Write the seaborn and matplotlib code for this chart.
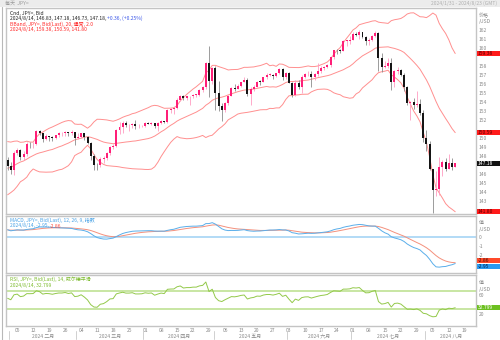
import numpy as np
import pandas as pd
import matplotlib
matplotlib.use("Agg")
import matplotlib.pyplot as plt
from matplotlib.patches import Rectangle
import matplotlib.transforms as mtransforms
import seaborn as sns

# ---- USD/JPY daily bid, closes before the visible window (indicator warm-up) ----
warmup_closes = [
    150.95, 150.43, 149.38, 149.98, 150.37, 150.96, 151.37, 151.52, 151.71, 150.36,
    151.36, 150.70, 149.60, 148.35, 148.37, 149.55, 149.55, 149.44, 148.70, 147.47,
    147.24, 148.19,
    146.80, 147.21, 147.18, 147.30, 144.10, 144.95, 145.91, 145.45, 142.90, 141.90,
    142.17, 142.83, 143.85, 143.53, 142.13, 142.40, 142.30, 142.43, 141.80, 141.40,
    141.00,
    141.00, 142.00, 143.30, 144.60, 144.60, 144.25, 144.40, 145.75, 145.30, 144.90,
    145.75, 147.20, 148.15, 148.15, 148.10, 148.10, 148.40, 147.50, 147.65, 148.15,
    147.50, 147.60,
]

# ---- visible candles, 2024-01-31 .. 2024-08-14 ----
opens = [
    147.55, 146.90, 146.45,
    148.35, 148.70, 147.93, 148.18, 149.30,
    149.28, 149.35, 150.78, 150.55, 149.90,
    150.20, 150.15, 150.00, 150.30, 150.50,
    150.50, 150.68, 150.50, 150.70, 149.98,
    150.10, 150.50, 150.05, 149.40, 148.00,
    147.05, 146.95, 147.65, 147.80, 148.30,
    149.05, 149.15, 150.85, 151.25, 151.60,
    151.40, 151.40, 151.55, 151.30, 151.30,
    151.35, 151.65, 151.58, 151.65, 151.30,
    151.60, 151.85, 151.78, 153.15, 153.25,
    153.28, 154.25, 154.70, 154.40, 154.60,
    154.60, 154.80, 154.80, 155.35, 155.60,
    158.30, 156.35, 157.80, 155.00, 153.50,
    153.05, 153.90, 154.70, 155.55, 155.45,
    155.75, 156.20, 156.40, 154.90, 155.40,
    155.65, 156.25, 156.20, 156.75, 157.00,
    157.00, 156.85, 157.15, 157.60, 156.80,
    157.25, 156.10, 154.80, 156.10, 155.60,
    156.75, 157.05, 157.10, 156.70, 157.05,
    157.40, 157.70, 157.85, 158.10, 158.95,
    159.75, 159.70, 159.65, 160.75, 160.75,
    160.88, 161.50, 161.45, 161.70, 161.20,
    160.75, 160.80, 161.30, 161.65, 158.85,
    157.85, 158.00, 158.35, 156.18, 157.37,
    157.49, 157.03, 155.63, 153.90, 153.96,
    153.60, 153.80, 152.75, 149.98, 149.37,
    146.54, 144.18, 144.29, 146.78, 147.29,
    146.60, 147.22, 146.83,
]
highs = [
    147.85, 147.35, 148.55,
    148.90, 148.80, 148.50, 149.55, 149.50,
    149.55, 150.88, 150.90, 150.60, 150.45,
    150.25, 150.20, 150.35, 150.65, 150.65,
    150.75, 150.70, 150.85, 150.70, 150.60,
    150.60, 150.60, 150.20, 149.50, 148.25,
    147.25, 147.90, 147.95, 148.40, 149.15,
    149.35, 150.95, 151.80, 151.85, 151.85,
    151.50, 151.65, 151.97, 151.50, 151.45,
    151.75, 151.80, 151.80, 151.70, 151.80,
    152.00, 151.90, 153.25, 153.30, 153.40,
    154.45, 154.75, 154.80, 154.70, 154.65,
    154.85, 154.85, 155.40, 155.75, 158.45,
    160.20, 157.85, 157.98, 156.30, 153.90,
    154.00, 154.80, 155.70, 155.95, 155.95,
    156.25, 156.75, 156.60, 155.60, 155.90,
    156.35, 156.40, 156.80, 157.20, 157.20,
    157.10, 157.25, 157.70, 157.70, 157.35,
    157.30, 156.20, 156.45, 156.40, 157.00,
    157.25, 157.40, 157.40, 157.20, 158.25,
    157.95, 157.95, 158.20, 159.00, 159.80,
    159.90, 159.90, 160.85, 160.85, 161.25,
    161.75, 161.75, 161.95, 161.75, 161.30,
    161.05, 161.40, 161.80, 161.75, 159.45,
    158.50, 158.85, 158.85, 157.50, 157.85,
    157.65, 157.20, 155.80, 154.10, 154.40,
    155.20, 154.30, 153.10, 150.90, 149.70,
    146.60, 146.35, 147.90, 147.55, 147.80,
    148.20, 147.80, 147.18,
]
lows = [
    146.45, 146.00, 145.90,
    148.10, 147.60, 147.60, 148.00, 148.90,
    148.90, 149.20, 150.35, 149.55, 149.80,
    149.70, 149.70, 149.90, 150.10, 150.25,
    150.25, 150.20, 150.30, 149.20, 149.90,
    150.00, 149.75, 149.30, 147.60, 146.50,
    146.50, 146.80, 147.25, 147.50, 148.10,
    148.75, 149.00, 150.45, 150.60, 151.20,
    150.80, 151.15, 151.00, 151.15, 151.20,
    151.25, 151.55, 151.45, 151.05, 150.80,
    151.55, 151.65, 151.70, 152.75, 152.60,
    153.20, 154.10, 154.15, 154.15, 153.60,
    154.45, 154.55, 154.70, 155.05, 155.40,
    154.55, 156.00, 153.05, 152.95, 151.86,
    152.85, 153.70, 154.60, 155.20, 155.40,
    155.70, 156.15, 154.70, 153.60, 155.20,
    155.60, 155.90, 156.15, 156.55, 156.85,
    156.55, 156.75, 157.10, 156.40, 156.55,
    156.05, 154.55, 154.70, 155.40, 154.95,
    156.65, 156.85, 155.70, 156.45, 156.90,
    157.20, 157.55, 157.75, 157.90, 158.70,
    159.30, 159.45, 159.60, 160.20, 160.40,
    160.80, 161.25, 161.00, 161.10, 160.25,
    160.30, 160.70, 161.15, 157.40, 157.35,
    157.75, 157.80, 155.35, 155.60, 157.10,
    156.85, 155.20, 153.60, 151.94, 153.20,
    153.45, 152.55, 149.60, 148.50, 146.40,
    141.68, 143.60, 143.70, 145.80, 146.30,
    146.55, 146.50, 146.73,
]
closes = [
    146.90, 146.45, 148.38,
    148.70, 147.93, 148.18, 149.30, 149.28,
    149.35, 150.78, 150.55, 149.90, 150.20,
    150.15, 150.00, 150.30, 150.50, 150.50,
    150.68, 150.50, 150.70, 149.98, 150.10,
    150.50, 150.05, 149.40, 148.00, 147.05,
    146.95, 147.65, 147.80, 148.30, 149.05,
    149.15, 150.85, 151.25, 151.60, 151.40,
    151.40, 151.55, 151.30, 151.30, 151.35,
    151.65, 151.58, 151.65, 151.30, 151.60,
    151.85, 151.78, 153.15, 153.25, 153.28,
    154.25, 154.70, 154.40, 154.60, 154.60,
    154.80, 154.80, 155.35, 155.60, 158.30,
    156.35, 157.80, 155.00, 153.50, 153.05,
    153.90, 154.70, 155.55, 155.45, 155.75,
    156.20, 156.40, 154.90, 155.40, 155.65,
    156.25, 156.20, 156.75, 157.00, 157.00,
    156.85, 157.15, 157.60, 156.80, 157.25,
    156.10, 154.80, 156.10, 155.60, 156.75,
    157.05, 157.10, 156.70, 157.05, 157.40,
    157.70, 157.85, 158.10, 158.95, 159.75,
    159.70, 159.65, 160.75, 160.75, 160.88,
    161.50, 161.45, 161.70, 161.20, 160.75,
    160.80, 161.30, 161.65, 158.85, 157.85,
    158.00, 158.35, 156.18, 157.37, 157.49,
    157.03, 155.63, 153.90, 153.96, 153.60,
    153.80, 152.75, 149.98, 149.37, 146.54,
    144.18, 144.29, 146.78, 147.29, 146.60,
    147.22, 146.82, 147.18,
]

# Values shown in the header lines and the right-hand value boxes
last_date = "2024/8/14"
last_change = "+0.36, (+0.25%)"
bb_last = (159.38, 150.59, 141.80)
macd_last = (-2.95, -2.86)
rsi_last = 32.799
price_ticks = [143, 144, 145, 146, 148, 149, 150, 152, 153, 154, 155, 156, 157,
               158, 160, 161, 162]
macd_ticks = [-2, -1, 0]
rsi_ticks = [20, 60]
month_names = ["一月", "二月", "三月", "四月", "五月", "六月", "七月", "八月",
               "九月", "十月", "十一月", "十二月"]

# ---- indicators ----
warm_dates = pd.bdate_range("2023-11-01", "2024-01-30")
dates = pd.bdate_range("2024-01-31", "2024-08-14")
axis_dates = pd.bdate_range("2024-01-31", "2024-08-23")

series = pd.Series(warmup_closes + closes, index=warm_dates.append(dates))
mid = series.rolling(20).mean()
sd = series.rolling(20).std(ddof=0)
ema12 = series.ewm(span=12, adjust=False).mean()
ema26 = series.ewm(span=26, adjust=False).mean()
macd = ema12 - ema26
signal = macd.ewm(span=9, adjust=False).mean()
delta = series.diff()
gain = delta.clip(lower=0).ewm(alpha=1 / 14, adjust=False).mean()
loss = (-delta.clip(upper=0)).ewm(alpha=1 / 14, adjust=False).mean()
rsi = 100 - 100 / (1 + gain / loss)

n = len(closes)
df = pd.DataFrame({
    "pos": np.arange(n),
    "open": opens, "high": highs, "low": lows, "close": closes,
    "upper": (mid + 2 * sd)[dates].values,
    "mid": mid[dates].values,
    "lower": (mid - 2 * sd)[dates].values,
    "macd": macd[dates].values,
    "signal": signal[dates].values,
    "rsi": rsi[dates].values,
})

# ---- style ----
sns.set_theme(style="white")
plt.rcParams["font.family"] = ["Noto Sans CJK SC", "DejaVu Sans"]
plt.rcParams["axes.unicode_minus"] = False

W, H = 500, 340
fig = plt.figure(figsize=(W / 100, H / 100), dpi=100)
fig.patch.set_facecolor("white")


def box(x0, y0, x1, y1):
    return [x0 / W, 1 - y1 / H, (x1 - x0) / W, (y1 - y0) / H]


UP = "#ff1f78"
UP_WICK = "#ff9cc2"
DOWN = "#151515"
DOWN_WICK = "#8c8c8c"
BAND = "#ff8f8f"
MACD_C = "#5aaeea"
SIG_C = "#f4907c"
ZERO_C = "#a6d4f5"
RSI_C = "#93c94a"
RSI_LVL = "#bfe293"
GRID_TXT = "#8a8a8a"
SPINE = "#c4c4c4"
FS = 3.6

ax = fig.add_axes(box(6, 8, 476, 214))
ax_m = fig.add_axes(box(6, 216, 476, 273))
ax_r = fig.add_axes(box(6, 275, 476, 326))

XL = (-0.5, 146.5)
for a in (ax, ax_m, ax_r):
    a.set_xlim(*XL)
    a.set_facecolor("white")
    for s in a.spines.values():
        s.set_color(SPINE)
        s.set_linewidth(1.0)
    a.yaxis.tick_right()
    a.tick_params(axis="y", length=0, labelsize=FS, labelcolor=GRID_TXT, pad=2)
    a.set_xticks([])

# ---- candles ----
for _, r in df.iterrows():
    up = r["close"] >= r["open"]
    ax.vlines(r["pos"], r["low"], r["high"], color=UP_WICK if up else DOWN_WICK,
              lw=0.6, zorder=2)
    lo = min(r["open"], r["close"])
    hgt = max(abs(r["close"] - r["open"]), 0.07)
    ax.bar(r["pos"], hgt, bottom=lo, width=0.62, color=UP if up else DOWN,
           linewidth=0, zorder=3)

for col in ("upper", "mid", "lower"):
    sns.lineplot(data=df, x="pos", y=col, ax=ax, color=BAND, lw=0.7, zorder=1)
ax.set_ylim(141.57, 164.40)
ax.set_yticks(price_ticks)
ax.set_xlabel("")
ax.set_ylabel("")

# ---- MACD ----
ax_m.axhline(0, color=ZERO_C, lw=1.2, zorder=1)
sns.lineplot(data=df, x="pos", y="signal", ax=ax_m, color=SIG_C, lw=0.7, zorder=2)
sns.lineplot(data=df, x="pos", y="macd", ax=ax_m, color=MACD_C, lw=0.7, zorder=3)
ax_m.set_ylim(-4.0, 2.33)
ax_m.set_yticks(macd_ticks)
ax_m.set_xlabel("")
ax_m.set_ylabel("")

# ---- RSI ----
ax_r.axhline(70, color=RSI_LVL, lw=1.2, zorder=1)
ax_r.axhline(30, color=RSI_LVL, lw=1.2, zorder=1)
sns.lineplot(data=df, x="pos", y="rsi", ax=ax_r, color=RSI_C, lw=0.7, zorder=2)
ax_r.set_ylim(-7, 104)
ax_r.set_yticks(rsi_ticks)
ax_r.set_xlabel("")
ax_r.set_ylabel("")

# ---- date axis ----
mondays = [i for i, d in enumerate(axis_dates) if d.weekday() == 0]
ax_r.set_xticks(mondays)
ax_r.set_xticklabels([f"{axis_dates[i].day:02d}" for i in mondays])
ax_r.tick_params(axis="x", length=0, labelsize=FS, labelcolor=GRID_TXT, pad=1.5)
ax_r.set_xlim(*XL)

trans_x = mtransforms.blended_transform_factory(ax_r.transData, fig.transFigure)
months = sorted(set(d.month for d in axis_dates))
for m in months:
    idx = [i for i, d in enumerate(axis_dates) if d.month == m]
    if len(idx) < 3:
        continue
    start = idx[0]
    end = min(idx[-1], XL[1])
    ax_r.plot([start - 0.5, start - 0.5], [1 - 331 / H, 1 - 339 / H],
              transform=trans_x, color="#d0d0d0", lw=0.7, clip_on=False)
    ax_r.text((start + end) / 2, 1 - 336 / H, f"2024 {month_names[m - 1]}",
              transform=trans_x, ha="center", va="center", fontsize=FS,
              color=GRID_TXT)

# ---- frame and top bar ----
fig.add_artist(Rectangle((0, 1 - 7 / H), 1, 7 / H, transform=fig.transFigure,
                         facecolor="#ececec", edgecolor="none", zorder=0))
fig.add_artist(plt.Line2D([2 / W, 2 / W], [0, 1 - 7 / H], transform=fig.transFigure,
                          color="#b8b8b8", lw=0.8))
fig.text(5 / W, 1 - 3.5 / H, "每天  JPY=", fontsize=FS, color="#9a9a9a",
         va="center", ha="left")
fig.text(497 / W, 1 - 3.5 / H, "2024/1/31 - 2024/8/23 (GMT)", fontsize=FS,
         color="#b0b0b0", va="center", ha="right")

renderer = fig.canvas.get_renderer()


def header(y_px, parts):
    """Draw a header line made of differently coloured pieces, pixel y from top."""
    x = 10
    for txt, col in parts:
        t = fig.text(x / W, 1 - y_px / H, txt, fontsize=FS, color=col,
                     va="center", ha="left", zorder=10)
        bb = t.get_window_extent(renderer=renderer)
        x += bb.width + 0.8


header(13, [("Cnd, JPY=, Bid", "#222222")])
header(18.5, [(f"{last_date}, {opens[-1]:.2f}, {highs[-1]:.2f}, "
               f"{lows[-1]:.2f}, {closes[-1]:.2f},", "#222222"),
              (last_change, "#3a56e8")])
header(24, [("BBand, JPY=, Bid(Last), 20, 通常, 2.0", "#ff2a2a")])
header(29.5, [(f"{last_date}, {bb_last[0]:.2f}, {bb_last[1]:.2f}, "
               f"{bb_last[2]:.2f}", "#ff2a2a")])

header(220.5, [("MACD, JPY=, Bid(Last), 12, 26, 9, 指数", "#4aa3e6")])
header(226, [(f"{last_date}, {macd_last[0]:.2f},", "#4aa3e6"),
             (f"{macd_last[1]:.2f}", "#ff4a3a")])

header(279.5, [("RSI, JPY=, Bid(Last), 14, 威尔德平滑", "#7dbb2e")])
header(285, [(f"{last_date}, {rsi_last:.3f}", "#7dbb2e")])


def value_box(a, val, text, face, fg, shift=0.0):
    y = a.transData.transform((0, val))[1] + shift
    h = 5.0
    fig.add_artist(Rectangle((476.5 / W, (y - h / 2) / H), 23.5 / W, h / H,
                             transform=fig.transFigure, facecolor=face,
                             edgecolor="none", zorder=20))
    fig.text(478 / W, y / H, text, fontsize=FS, color=fg, va="center",
             ha="left", zorder=21)


def axis_title(y1, y2, t1, t2):
    fig.text(479 / W, 1 - y1 / H, t1, fontsize=FS, color=GRID_TXT, va="center")
    fig.text(479 / W, 1 - y2 / H, t2, fontsize=FS, color=GRID_TXT, va="center")


axis_title(16, 22, "价格", "/USD")
axis_title(223, 229, "值", "/USD")
axis_title(283, 289, "值", "/USD")

value_box(ax, bb_last[0], f"{bb_last[0]:.2f}", "#ff1a1a", "#5a0000")
value_box(ax, bb_last[1], f"{bb_last[1]:.2f}", "#ff1a1a", "#5a0000")
value_box(ax, bb_last[2], f"{bb_last[2]:.2f}", "#ff1a1a", "#5a0000")
value_box(ax, closes[-1], f"{closes[-1]:.2f}", "#111111", "white")
value_box(ax_m, macd_last[1], f"{macd_last[1]:.2f}", "#ff4a2a", "#4a0a00", 2.5)
value_box(ax_m, macd_last[0], f"{macd_last[0]:.2f}", "#2a9af0", "#00204a", -2.5)
value_box(ax_r, rsi_last, f"{rsi_last:.3f}", "#6cc020", "white")

fig.savefig("out.png", dpi=100, facecolor="white")
